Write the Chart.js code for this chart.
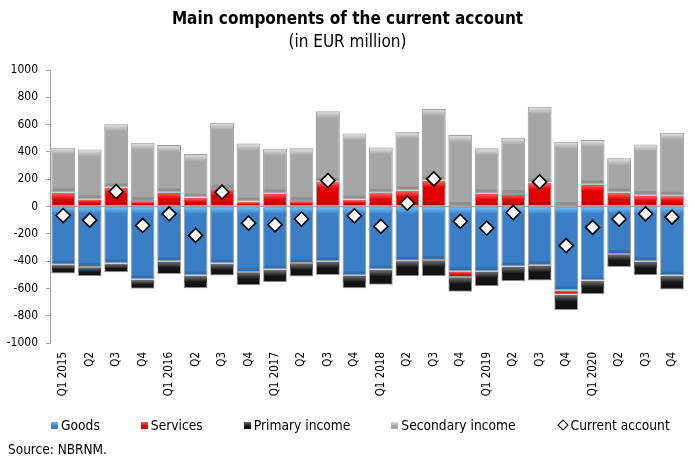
<!DOCTYPE html>
<html>
<head>
<meta charset="utf-8">
<script src="https://cdn.jsdelivr.net/npm/chart.js@4.4.1/dist/chart.umd.min.js"></script>
<style>
  body { margin: 0; background: #fff; }
  #wrap { position: relative; width: 695px; height: 456px; font-family: "DejaVu Sans Condensed", "DejaVu Sans", sans-serif; color: #000; }
  #title { position: absolute; left: 0; width: 695px; top: 8px; text-align: center; font-weight: bold; font-size: 17px; }
  #subtitle { position: absolute; left: 0; width: 695px; top: 31px; text-align: center; font-size: 17px; }
  #legend { position: absolute; left: 51px; top: 417px; font-size: 13.7px; white-space: nowrap; }
  #legend span.item { display: inline-block; margin-right: 41px; }
  #legend i { display: inline-block; width: 7px; height: 7px; margin-right: 3px; vertical-align: 1px; }
  #legend i.dia { width: 6px; height: 6px; border: 1.5px solid #000; transform: rotate(45deg); margin-right: 4px; margin-left: 2px; background: #fff; }
  #source { position: absolute; left: 8px; top: 441px; font-size: 13.5px; }
</style>
</head>
<body>
<div id="wrap">
  <canvas id="myChart"></canvas>
  <div id="title">Main components of the current account</div>
  <div id="subtitle">(in EUR million)</div>
  <div id="legend"></div>
  <div id="source">Source: NBRNM.</div>
</div>
<script>
// quarters 2015 - 2020
var quarters = ["Q1 2015", "Q2", "Q3", "Q4", "Q1 2016", "Q2", "Q3", "Q4", "Q1 2017", "Q2", "Q3", "Q4",
                "Q1 2018", "Q2", "Q3", "Q4", "Q1 2019", "Q2", "Q3", "Q4", "Q1 2020", "Q2", "Q3", "Q4"];
var goods = [-426, -443, -418, -535, -401, -506, -418, -479, -462, -414, -401, -504,
             -462, -397, -392, -474, -474, -440, -431, -613, -543, -348, -401, -506];
var services = [102, 54, 139, 41, 105, 66, 129, 36, 97, 41, 182, 51,
                100, 117, 190, -42, 97, 92, 175, -32, 163, 102, 83, 78];
var primaryIncome = [-65, -68, -64, -68, -93, -93, -88, -98, -93, -99, -100, -95,
                     -112, -114, -119, -109, -110, -107, -112, -114, -99, -95, -103, -102];
var secondaryIncome = [329, 364, 464, 426, 345, 318, 484, 426, 326, 385, 516, 484,
                       333, 430, 525, 523, 329, 412, 555, 474, 324, 251, 372, 462];
var currentAccount = [-66, -100, 109, -139, -54, -212, 105, -122, -134, -92, 190, -68,
                      -146, 24, 202, -109, -158, -44, 180, -287, -153, -92, -54, -78];
var yTicks = [-1000, -800, -600, -400, -200, 0, 200, 400, 600, 800, 1000];

var seriesNames = ["Goods", "Services", "Primary income", "Secondary income", "Current account"];
var fills = ["#3a7fc6", "#e00000", "#141414", "#a6a6a6"];
var lights = ["#6cb8f2", "#ff5a5a", "#6a6a6a", "#dcdcdc"];

// glossy strip on top of every bar segment
var shine = {
  id: 'shine',
  afterDatasetDraw: function (chart, args) {
    var meta = args.meta;
    if (meta.type !== 'bar') return;
    var c = chart.ctx;
    var col = lights[args.index];
    meta.data.forEach(function (bar) {
      var top = Math.min(bar.y, bar.base);
      var h = Math.abs(bar.base - bar.y);
      if (h < 2) return;
      var sh = Math.min(6, h * 0.45);
      var x = bar.x - bar.width / 2 + 1;
      var w = bar.width - 2;
      var g = c.createLinearGradient(0, top + 1, 0, top + 1 + sh);
      g.addColorStop(0, col);
      g.addColorStop(1, fills[args.index]);
      c.save();
      c.fillStyle = g;
      c.fillRect(x, top + 1, w, sh);
      // darker bottom edge
      var bh = Math.min(3, h * 0.2);
      c.fillStyle = 'rgba(0,0,0,0.12)';
      c.fillRect(x, top + h - 1 - bh, w, bh);
      c.restore();
    });
  }
};

function barSet(i, data) {
  return {
    type: 'bar',
    label: seriesNames[i],
    data: data,
    backgroundColor: fills[i],
    borderColor: '#9c9c9c',
    borderWidth: 1,
    borderSkipped: false,
    barPercentage: 0.9,
    categoryPercentage: 1.0,
    order: 1
  };
}

new Chart("myChart", {
  data: {
    labels: quarters,
    datasets: [
      barSet(0, goods),
      barSet(1, services),
      barSet(2, primaryIncome),
      barSet(3, secondaryIncome),
      {
        type: 'line',
        label: seriesNames[4],
        data: currentAccount,
        showLine: false,
        stack: 'ca',
        pointStyle: 'rectRot',
        pointRadius: 7,
        pointBackgroundColor: '#f7f7f7',
        pointBorderColor: '#000',
        pointBorderWidth: 1.6,
        order: 0
      }
    ]
  },
  options: {
    responsive: true,
    maintainAspectRatio: false,
    animation: false,
    layout: { padding: { top: 70, bottom: 53, left: 0, right: 0 } },
    plugins: {
      legend: { display: false },
      tooltip: { enabled: false }
    },
    scales: {
      x: {
        stacked: true,
        grid: { display: false, drawTicks: false },
        border: { display: false },
        ticks: {
          autoSkip: false, minRotation: 90, maxRotation: 90, padding: 9,
          color: '#000', font: { family: 'DejaVu Sans Condensed', size: 11.5 }
        },
        afterFit: function (s) { s.height = 60; }
      },
      y: {
        stacked: true,
        min: -1000, max: 1000,
        afterBuildTicks: function (s) { s.ticks = yTicks.map(function (v) { return { value: v }; }); },
        border: { display: true, color: '#a0a0a0', width: 1 },
        grid: {
          drawOnChartArea: true,
          color: function (ctx) { return ctx.tick && ctx.tick.value === 0 ? '#a0a0a0' : 'rgba(0,0,0,0)'; },
          tickColor: '#a0a0a0',
          tickLength: 4
        },
        ticks: {
          padding: 8, color: '#000', font: { family: 'DejaVu Sans Condensed', size: 12 },
          callback: function (v) { return String(v); }
        },
        afterFit: function (s) { s.width = 50; }
      }
    }
  },
  plugins: [shine]
});

// legend
var lg = document.getElementById('legend');
seriesNames.forEach(function (name, i) {
  var item = document.createElement('span');
  item.className = 'item';
  var sw = document.createElement('i');
  if (i < 4) {
    sw.style.background = 'linear-gradient(' + lights[i] + ', ' + fills[i] + ' 60%)';
  } else {
    sw.className = 'dia';
  }
  item.appendChild(sw);
  item.appendChild(document.createTextNode(name));
  lg.appendChild(item);
});
</script>
</body>
</html>
